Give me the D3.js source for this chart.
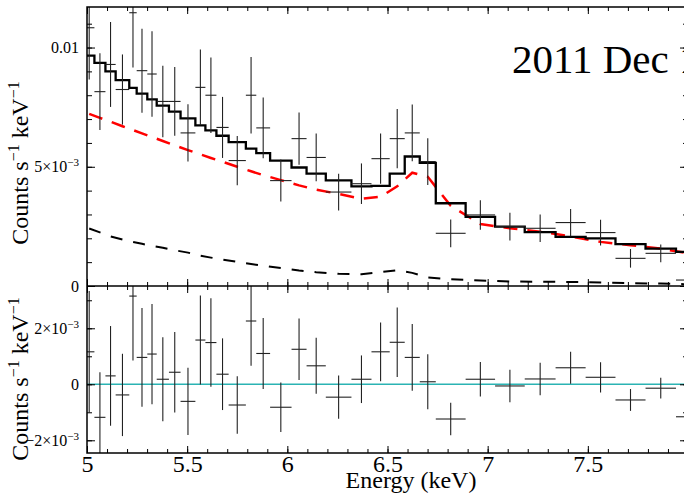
<!DOCTYPE html>
<html>
<head>
<meta charset="utf-8">
<script src="https://cdn.jsdelivr.net/npm/d3@7"></script>
<style>
  body { margin: 0; background: #fff; }
  text { font-family: "Liberation Serif", "Times New Roman", serif; fill: #000; }
</style>
</head>
<body>
<svg id="chart" width="684" height="495"></svg>
<script>
// bin edges in keV (34 bins)
const binEdges = [4.985, 5.037, 5.092, 5.143, 5.211, 5.248, 5.301, 5.348, 5.409, 5.467,
                  5.541, 5.591, 5.646, 5.707, 5.793, 5.845, 5.914, 6.021, 6.096, 6.192,
                  6.320, 6.420, 6.511, 6.586, 6.661, 6.741, 6.890, 7.037, 7.185, 7.339,
                  7.489, 7.638, 7.788, 7.940, 8.087];

// data, counts s-1 keV-1
const counts = [10.83e-3, 8.15e-3, 9.29e-3, 8.24e-3, 11.46e-3, 9.03e-3, 8.89e-3, 7.74e-3, 7.74e-3, 6.42e-3,
                8.33e-3, 8.00e-3, 6.65e-3, 5.26e-3, 8.00e-3, 6.63e-3, 4.42e-3, 6.18e-3, 5.39e-3, 3.94e-3,
                4.29e-3, 5.34e-3, 6.18e-3, 6.42e-3, 5.22e-3, 2.21e-3, 2.98e-3, 2.49e-3, 2.42e-3, 2.66e-3,
                2.24e-3, 1.16e-3, 1.37e-3, 0.25e-3];
const errors = [2.17e-3, 1.61e-3, 1.78e-3, 1.47e-3, 2.30e-3, 1.76e-3, 1.79e-3, 1.50e-3, 1.44e-3, 1.20e-3,
                1.59e-3, 1.58e-3, 1.28e-3, 1.03e-3, 1.60e-3, 1.27e-3, 0.88e-3, 1.10e-3, 1.00e-3, 0.77e-3,
                0.85e-3, 1.05e-3, 1.24e-3, 1.19e-3, 0.98e-3, 0.58e-3, 0.62e-3, 0.58e-3, 0.58e-3, 0.57e-3,
                0.54e-3, 0.39e-3, 0.37e-3, 0.60e-3];

// folded model: total (step), line component (red dashed), continuum (black dashed)
const modelTotal = [9.66e-3, 9.36e-3, 9.00e-3, 8.63e-3, 8.31e-3, 8.07e-3, 7.83e-3, 7.56e-3, 7.31e-3, 7.03e-3,
                    6.74e-3, 6.53e-3, 6.30e-3, 6.03e-3, 5.76e-3, 5.57e-3, 5.26e-3, 4.97e-3, 4.71e-3, 4.43e-3,
                    4.18e-3, 4.20e-3, 4.71e-3, 5.43e-3, 5.16e-3, 3.47e-3, 2.90e-3, 2.49e-3, 2.26e-3, 2.06e-3,
                    2.00e-3, 1.76e-3, 1.57e-3, 1.43e-3];
const modelRed = [7.22e-3, 7.05e-3, 6.89e-3, 6.70e-3, 6.54e-3, 6.40e-3, 6.25e-3, 6.08e-3, 5.90e-3, 5.70e-3,
                  5.52e-3, 5.37e-3, 5.21e-3, 5.00e-3, 4.81e-3, 4.65e-3, 4.44e-3, 4.22e-3, 4.04e-3, 3.86e-3,
                  3.66e-3, 3.74e-3, 4.18e-3, 4.75e-3, 4.58e-3, 3.36e-3, 2.60e-3, 2.42e-3, 2.28e-3, 2.08e-3,
                  1.85e-3, 1.71e-3, 1.57e-3, 1.35e-3];
const modelBlack = [2.41e-3, 2.25e-3, 2.08e-3, 1.95e-3, 1.85e-3, 1.77e-3, 1.68e-3, 1.60e-3, 1.50e-3, 1.40e-3,
                    1.27e-3, 1.19e-3, 1.11e-3, 1.01e-3, 0.92e-3, 0.85e-3, 0.75e-3, 0.65e-3, 0.58e-3, 0.51e-3,
                    0.49e-3, 0.58e-3, 0.66e-3, 0.55e-3, 0.36e-3, 0.28e-3, 0.23e-3, 0.19e-3, 0.18e-3, 0.17e-3,
                    0.15e-3, 0.12e-3, 0.10e-3, 0.07e-3];

// residuals (data - model)
const residuals = [1.16e-3, -1.18e-3, 0.30e-3, -0.38e-3, 3.15e-3, 0.96e-3, 1.08e-3, 0.18e-3, 0.43e-3, -0.61e-3,
                   1.58e-3, 1.49e-3, 0.36e-3, -0.74e-3, 2.26e-3, 1.10e-3, -0.82e-3, 1.25e-3, 0.66e-3, -0.46e-3,
                   0.18e-3, 1.16e-3, 1.50e-3, 0.96e-3, 0.09e-3, -1.24e-3, 0.18e-3, -0.06e-3, 0.19e-3, 0.59e-3,
                   0.25e-3, -0.56e-3, -0.14e-3, -1.16e-3];

const xMajor = [5, 5.5, 6, 6.5, 7, 7.5];
const xMinor = d3.range(50, 81).map(d => d / 10);
const xTickLabels = ["5", "5.5", "6", "6.5", "7", "7.5"];
const upperMajor = [0, 0.005, 0.01];
const upperMinor = d3.range(0, 12).map(d => d / 1000);
const upperLabels = [["0", ""], ["5×10", "−3"], ["0.01", ""]];
const lowerMajor = [-0.002, 0, 0.002];
const lowerMinor = [-0.002, -0.001, 0, 0.001, 0.002, 0.003];
const lowerLabels = [["−2×10", "−3"], ["0", ""], ["2×10", "−3"]];
const yTitle = "Counts s";
const xTitle = "Energy (keV)";
const dateLabel = "2011 Dec 14";

const svg = d3.select("#chart");
const padL = 87, padR = 688, yTop = 7, yMid = 286, yBot = 453;

const x = d3.scaleLinear().domain([5, 8]).range([padL, padR]);
const yUp = d3.scaleLinear().domain([0, 0.0117]).range([yMid, yTop]);
const yLo = d3.scaleLinear().domain([-0.002454, 0.00351]).range([yBot, yMid]);

const defs = svg.append("defs");
defs.append("clipPath").attr("id", "clipUp")
    .append("rect").attr("x", padL).attr("y", yTop).attr("width", padR - padL).attr("height", yMid - yTop);
defs.append("clipPath").attr("id", "clipLo")
    .append("rect").attr("x", padL).attr("y", yMid).attr("width", padR - padL).attr("height", yBot - yMid);

const bins = counts.map((c, i) => ({
    lo: binEdges[i], hi: binEdges[i + 1], mid: (binEdges[i] + binEdges[i + 1]) / 2,
    c: c, e: errors[i], r: residuals[i]
}));

// ---------- upper panel ----------
const up = svg.append("g").attr("clip-path", "url(#clipUp)");

up.append("path")
  .attr("d", d3.line().x(d => x(d[0])).y(d => yUp(d[1]))(bins.map((b, i) => [b.mid, modelBlack[i]])))
  .attr("fill", "none").attr("stroke", "#000").attr("stroke-width", 2)
  .attr("stroke-dasharray", "12,11");

up.append("path")
  .attr("d", d3.line().x(d => x(d[0])).y(d => yUp(d[1]))(bins.map((b, i) => [b.mid, modelRed[i]])))
  .attr("fill", "none").attr("stroke", "#f00").attr("stroke-width", 2.5)
  .attr("stroke-dasharray", "14,10");

let stepPts = binEdges.map((e, i) => [e, modelTotal[Math.min(i, modelTotal.length - 1)]]);
up.append("path")
  .attr("d", d3.line().curve(d3.curveStepAfter).x(d => x(d[0])).y(d => yUp(d[1]))(stepPts))
  .attr("fill", "none").attr("stroke", "#000").attr("stroke-width", 2.3);

let crossUp = up.selectAll("g.cross").data(bins).join("g").attr("class", "cross")
                .attr("stroke", "#222").attr("stroke-width", 1.1);
crossUp.append("line")
       .attr("x1", d => x(d.lo)).attr("x2", d => x(d.hi))
       .attr("y1", d => yUp(d.c)).attr("y2", d => yUp(d.c));
crossUp.append("line")
       .attr("x1", d => x(d.mid)).attr("x2", d => x(d.mid))
       .attr("y1", d => yUp(d.c - d.e)).attr("y2", d => yUp(d.c + d.e));

// ---------- lower panel ----------
const lo = svg.append("g").attr("clip-path", "url(#clipLo)");

lo.append("line")
  .attr("x1", padL).attr("x2", padR).attr("y1", yLo(0)).attr("y2", yLo(0))
  .attr("stroke", "#2bb3b3").attr("stroke-width", 1.6);

let crossLo = lo.selectAll("g.cross").data(bins).join("g").attr("class", "cross")
                .attr("stroke", "#222").attr("stroke-width", 1.1);
crossLo.append("line")
       .attr("x1", d => x(d.lo)).attr("x2", d => x(d.hi))
       .attr("y1", d => yLo(d.r)).attr("y2", d => yLo(d.r));
crossLo.append("line")
       .attr("x1", d => x(d.mid)).attr("x2", d => x(d.mid))
       .attr("y1", d => yLo(d.r - d.e)).attr("y2", d => yLo(d.r + d.e));

// ---------- axes ----------
function styleAxis(g) {
    g.select(".domain").remove();
    g.selectAll(".tick line").attr("stroke", "#000").attr("stroke-width", 1);
}

function sciText(g, labels) {
    g.selectAll(".tick text").each(function(d, i) {
        let t = d3.select(this).text("");
        t.append("tspan").text(labels[i][0]);
        if (labels[i][1]) {
            t.append("tspan").attr("font-size", 11).attr("dy", -6).text(labels[i][1]);
        }
    });
}

// x axes: bottom/top of both panels
[[yMid, "bottom", false], [yTop, "top", false], [yBot, "bottom", true], [yMid, "top", false]].forEach(a => {
    let [yy, side, withLabels] = a;
    let mk = side == "bottom" ? d3.axisBottom : d3.axisTop;
    svg.append("g").attr("transform", `translate(0,${yy})`)
       .call(mk(x).tickValues(xMinor).tickSize(-4).tickFormat(""))
       .call(styleAxis);
    let major = svg.append("g").attr("transform", `translate(0,${yy})`)
       .call(mk(x).tickValues(xMajor).tickSize(-7).tickPadding(2)
                  .tickFormat((d, i) => withLabels ? xTickLabels[i] : ""))
       .call(styleAxis);
    major.selectAll(".tick text").attr("font-size", 24).attr("font-family", "Liberation Serif");
});

// y axes
function yAxes(scale, minor, majorVals, labels) {
    svg.append("g").attr("transform", `translate(${padL},0)`)
       .call(d3.axisLeft(scale).tickValues(minor).tickSize(-5).tickFormat(""))
       .call(styleAxis);
    let g = svg.append("g").attr("transform", `translate(${padL},0)`)
       .call(d3.axisLeft(scale).tickValues(majorVals).tickSize(-8).tickPadding(8))
       .call(styleAxis);
    g.selectAll(".tick text").attr("font-size", 16).attr("font-family", "Liberation Serif");
    g.call(sciText, labels);
    svg.append("g").attr("transform", `translate(${padR},0)`)
       .call(d3.axisRight(scale).tickValues(minor).tickSize(-5).tickFormat(""))
       .call(styleAxis);
    svg.append("g").attr("transform", `translate(${padR},0)`)
       .call(d3.axisRight(scale).tickValues(majorVals).tickSize(-8).tickFormat(""))
       .call(styleAxis);
}
yAxes(yUp, upperMinor, upperMajor, upperLabels);
yAxes(yLo, lowerMinor, lowerMajor, lowerLabels);

// frames
svg.append("rect").attr("x", padL).attr("y", yTop).attr("width", padR - padL).attr("height", yBot - yTop)
   .attr("fill", "none").attr("stroke", "#000").attr("stroke-width", 1.5);
svg.append("line").attr("x1", padL).attr("x2", padR).attr("y1", yMid).attr("y2", yMid)
   .attr("stroke", "#000").attr("stroke-width", 1.5);

// titles
function yTitleAt(cy) {
    let t = svg.append("text")
       .attr("transform", `translate(28,${cy}) rotate(-90)`)
       .attr("text-anchor", "middle").attr("font-size", 24);
    t.append("tspan").text(yTitle);
    t.append("tspan").attr("font-size", 16).attr("dy", -9).text("−1");
    t.append("tspan").attr("dy", 9).text(" keV");
    t.append("tspan").attr("font-size", 16).attr("dy", -9).text("−1");
}
yTitleAt(163);
yTitleAt(379);

svg.append("text").attr("x", 411).attr("y", 488).attr("text-anchor", "middle")
   .attr("font-size", 24).text(xTitle);

svg.append("text").attr("x", 512).attr("y", 73).attr("font-size", 41).text(dateLabel);
</script>
</body>
</html>
